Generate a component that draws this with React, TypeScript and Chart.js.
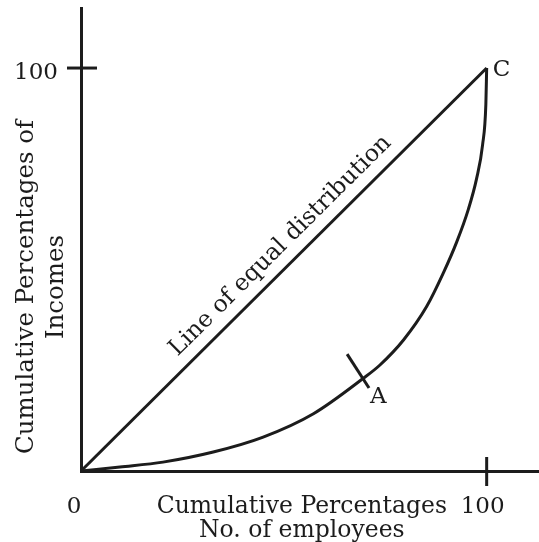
import React, { useEffect, useRef } from "react";
import { Chart, registerables } from "chart.js";

Chart.register(...registerables);

// ---- data ----
const equalityX = [0, 100];
const equalityY = [0, 100];

const lorenzX = [0, 9.6, 20.2, 32.6, 44.9, 57.3, 69.6, 73.7, 79.5, 85.2, 89.3, 92.6, 95.5, 97.5, 99.0, 99.8, 100];
const lorenzY = [0, 1.0, 2.2, 4.7, 8.4, 14.2, 23.0, 26.3, 32.5, 40.8, 49.1, 56.8, 65.0, 72.5, 81.0, 91.0, 100];

const markAX = [65.6, 71.0];
const markAY = [29.0, 20.6];
const pointA = { x: 69.6, y: 22.8, label: "A" };
const pointC = { x: 100, y: 100, label: "C" };

const tickValue = 100;
const xTickLabels = ["0", "100"];
const yTickLabels = ["100"];
const xTitle = ["Cumulative Percentages", "No. of employees"];
const yTitle = ["Cumulative Percentages of", "Incomes"];
const diagLabel = "Line of equal distribution";
const diagLabelAt = 52.5;

const X_MAX = 112.9;
const Y_MAX = 114.9;

const INK = "#1c1c1c";
const FONT = '"DejaVu Serif", serif';

const zip = (xs: number[], ys: number[]) => xs.map((x, i) => ({ x, y: ys[i] }));

const annotations = {
  id: "annotations",
  afterDraw(chart: any) {
    const { ctx, scales } = chart;
    const xs = scales.x;
    const ys = scales.y;
    const x0 = xs.getPixelForValue(0);
    const y0 = ys.getPixelForValue(0);
    const xT = xs.getPixelForValue(tickValue);
    const yT = ys.getPixelForValue(tickValue);
    ctx.save();
    ctx.strokeStyle = INK;
    ctx.lineWidth = 3;
    ctx.lineCap = "butt";
    // tick marks crossing the axes
    ctx.beginPath();
    ctx.moveTo(x0 - 14, yT);
    ctx.lineTo(x0 + 16, yT);
    ctx.stroke();
    ctx.beginPath();
    ctx.moveTo(xT, y0 - 14);
    ctx.lineTo(xT, y0 + 15);
    ctx.stroke();

    ctx.fillStyle = INK;
    ctx.font = `23px ${FONT}`;
    ctx.textBaseline = "alphabetic";
    ctx.textAlign = "right";
    ctx.fillText(yTickLabels[0], x0 - 23, yT + 11);
    ctx.textAlign = "center";
    ctx.fillText(xTickLabels[0], x0 - 7, y0 + 42);
    ctx.fillText(xTickLabels[1], xT - 4, y0 + 42);

    // point labels
    ctx.textAlign = "left";
    ctx.fillText(pointC.label, xs.getPixelForValue(pointC.x) + 6, ys.getPixelForValue(pointC.y) + 8);
    ctx.textAlign = "center";
    ctx.fillText(pointA.label, xs.getPixelForValue(pointA.x) + 15, ys.getPixelForValue(pointA.y) + 24);

    // axis titles
    ctx.font = `23.5px ${FONT}`;
    const midX = (x0 + xT) / 2 + 18;
    ctx.fillText(xTitle[0], midX, y0 + 42);
    ctx.fillText(xTitle[1], midX, y0 + 66);

    ctx.save();
    ctx.translate(0, 287);
    ctx.rotate(-Math.PI / 2);
    ctx.font = `24.5px ${FONT}`;
    ctx.fillText(yTitle[0], 0, 33);
    ctx.fillText(yTitle[1], 0, 63);
    ctx.restore();

    // diagonal label
    const px = xs.getPixelForValue(diagLabelAt);
    const py = ys.getPixelForValue(diagLabelAt);
    const ang = Math.atan2(yT - y0, xT - x0);
    ctx.save();
    ctx.translate(px, py);
    ctx.rotate(ang);
    ctx.font = `23.5px ${FONT}`;
    ctx.textAlign = "center";
    ctx.fillText(diagLabel, 0, -13);
    ctx.restore();

    ctx.restore();
  },
};

export default function App() {
  const ref = useRef<HTMLCanvasElement | null>(null);
  useEffect(() => {
    if (!ref.current) return;
    const line = (data: any[], extra: any = {}) => ({
      data,
      borderColor: INK,
      borderWidth: 3,
      pointRadius: 0,
      fill: false,
      ...extra,
    });
    const chart = new Chart(ref.current, {
      type: "line",
      data: {
        datasets: [
          line(zip(equalityX, equalityY), { tension: 0 }),
          line(zip(lorenzX, lorenzY), { cubicInterpolationMode: "monotone" }),
          line(zip(markAX, markAY), { tension: 0, borderCapStyle: "butt" }),
        ],
      },
      options: {
        animation: false,
        responsive: false,
        devicePixelRatio: 1,
        events: [],
        layout: { padding: { left: 81, top: 8, right: 0, bottom: 71 } },
        plugins: { legend: { display: false }, tooltip: { enabled: false } },
        scales: {
          x: {
            type: "linear",
            min: 0,
            max: X_MAX,
            grid: { display: false, drawTicks: false },
            ticks: { display: false },
            border: { display: true, color: INK, width: 3 },
          },
          y: {
            type: "linear",
            min: 0,
            max: Y_MAX,
            grid: { display: false, drawTicks: false },
            ticks: { display: false },
            border: { display: true, color: INK, width: 3 },
          },
        },
      },
      plugins: [annotations],
    });
    return () => chart.destroy();
  }, []);
  return (
    <div style={{ position: "absolute", left: 0, top: 0, width: 539, height: 542, background: "#fff" }}>
      <canvas ref={ref} width={539} height={542} />
    </div>
  );
}
